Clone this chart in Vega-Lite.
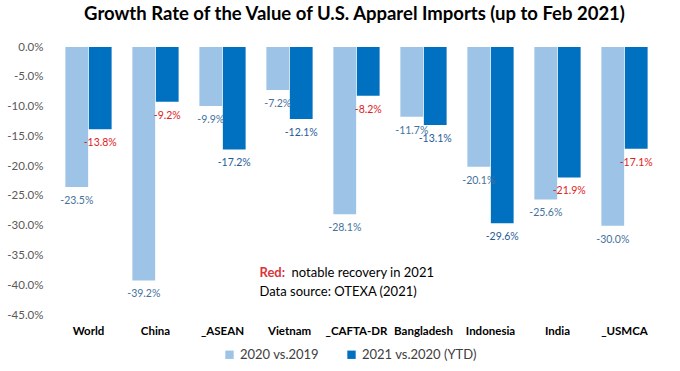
{
  "$schema": "https://vega.github.io/schema/vega-lite/v6.json",
  "width": 603,
  "height": 268,
  "autosize": {"type": "none"},
  "padding": {"left": 55, "top": 47, "right": 22, "bottom": 56},
  "background": "white",
  "config": {
    "font": "Lato",
    "view": {"stroke": null},
    "axis": {"labelOverlap": false, "labelSeparation": 0},
    "locale": {
      "number": {"decimal": ".", "thousands": ",", "grouping": [3], "currency": ["$", ""], "minus": "-"}
    }
  },
  "title": {
    "text": "Growth Rate of the Value of U.S. Apparel Imports (up to Feb 2021)",
    "font": "Lato",
    "fontSize": 18.5,
    "fontWeight": "bold",
    "color": "#000000",
    "anchor": "middle",
    "offset": 18,
    "dx": -2
  },
  "datasets": {
    "bars": [
      {"country": "World", "series": "2020 vs.2019", "value": -0.235, "recovery": false},
      {"country": "World", "series": "2021 vs.2020 (YTD)", "value": -0.138, "recovery": true},
      {"country": "China", "series": "2020 vs.2019", "value": -0.392, "recovery": false},
      {"country": "China", "series": "2021 vs.2020 (YTD)", "value": -0.092, "recovery": true},
      {"country": "_ASEAN", "series": "2020 vs.2019", "value": -0.099, "recovery": false},
      {"country": "_ASEAN", "series": "2021 vs.2020 (YTD)", "value": -0.172, "recovery": false},
      {"country": "Vietnam", "series": "2020 vs.2019", "value": -0.072, "recovery": false},
      {"country": "Vietnam", "series": "2021 vs.2020 (YTD)", "value": -0.121, "recovery": false},
      {"country": "_CAFTA-DR", "series": "2020 vs.2019", "value": -0.281, "recovery": false},
      {"country": "_CAFTA-DR", "series": "2021 vs.2020 (YTD)", "value": -0.082, "recovery": true},
      {"country": "Bangladesh", "series": "2020 vs.2019", "value": -0.117, "recovery": false},
      {"country": "Bangladesh", "series": "2021 vs.2020 (YTD)", "value": -0.131, "recovery": false},
      {"country": "Indonesia", "series": "2020 vs.2019", "value": -0.201, "recovery": false},
      {"country": "Indonesia", "series": "2021 vs.2020 (YTD)", "value": -0.296, "recovery": false},
      {"country": "India", "series": "2020 vs.2019", "value": -0.256, "recovery": false},
      {"country": "India", "series": "2021 vs.2020 (YTD)", "value": -0.219, "recovery": true},
      {"country": "_USMCA", "series": "2020 vs.2019", "value": -0.300, "recovery": false},
      {"country": "_USMCA", "series": "2021 vs.2020 (YTD)", "value": -0.171, "recovery": true}
    ],
    "notes": [
      {"country": "Vietnam", "value": -0.380, "part": "red", "text": "Red:"},
      {"country": "Vietnam", "value": -0.380, "part": "rest", "text": "notable recovery in 2021"},
      {"country": "Vietnam", "value": -0.412, "part": "source", "text": "Data source: OTEXA (2021)"}
    ]
  },
  "encoding": {
    "x": {
      "field": "country",
      "type": "nominal",
      "sort": ["World", "China", "_ASEAN", "Vietnam", "_CAFTA-DR", "Bangladesh", "Indonesia", "India", "_USMCA"],
      "scale": {"paddingInner": 0.31, "paddingOuter": 0.155},
      "axis": {
        "title": null,
        "orient": "bottom",
        "domain": false,
        "ticks": false,
        "labelAngle": 0,
        "labelFont": "Lato",
        "labelFontSize": 11.5,
        "labelFontWeight": "bold",
        "labelColor": "#000000",
        "labelPadding": 10
      }
    },
    "y": {
      "field": "value",
      "type": "quantitative",
      "scale": {"domain": [-0.45, 0], "nice": false},
      "axis": {
        "title": null,
        "values": [0, -0.05, -0.1, -0.15, -0.2, -0.25, -0.3, -0.35, -0.4, -0.45],
        "format": ".1%",
        "labelOverlap": false,
        "grid": false,
        "domain": false,
        "ticks": false,
        "labelFont": "Lato",
        "labelFontSize": 11.5,
        "labelColor": "#595959",
        "labelPadding": 12
      }
    }
  },
  "layer": [
    {
      "data": {"name": "bars"},
      "mark": {"type": "bar"},
      "encoding": {
        "xOffset": {"field": "series", "type": "nominal", "scale": {"paddingInner": 0.03}},
        "color": {
          "field": "series",
          "type": "nominal",
          "scale": {"domain": ["2020 vs.2019", "2021 vs.2020 (YTD)"], "range": ["#9DC3E6", "#0070C0"]},
          "legend": {
            "title": null,
            "orient": "none",
            "legendX": 168,
            "legendY": 301,
            "direction": "horizontal",
            "symbolType": "square",
            "symbolSize": 70,
            "symbolStrokeWidth": 0,
            "labelFont": "Lato",
            "labelFontSize": 13,
            "labelColor": "#404040",
            "columnPadding": 26
          }
        }
      }
    },
    {
      "data": {"name": "bars"},
      "mark": {"type": "text", "baseline": "top", "dy": 9, "font": "Lato", "fontSize": 10.5},
      "encoding": {
        "xOffset": {"field": "series", "type": "nominal"},
        "text": {"field": "value", "type": "quantitative", "format": ".1%"},
        "fontWeight": {
          "condition": {"test": "datum.series === '2021 vs.2020 (YTD)'", "value": "bold"},
          "value": "normal"
        },
        "color": {
          "condition": [
            {"test": "datum.series === '2021 vs.2020 (YTD)' && datum.recovery", "value": "#E0201B"},
            {"test": "datum.series === '2021 vs.2020 (YTD)'", "value": "#1F5C99"}
          ],
          "value": "#44729E"
        }
      }
    },
    {
      "data": {"name": "notes"},
      "transform": [{"filter": "datum.part === 'red'"}],
      "mark": {"type": "text", "align": "left", "baseline": "middle", "dx": -30, "font": "Lato", "fontSize": 13, "fontWeight": "bold", "color": "#D9363B"},
      "encoding": {"text": {"field": "text"}}
    },
    {
      "data": {"name": "notes"},
      "transform": [{"filter": "datum.part === 'rest'"}],
      "mark": {"type": "text", "align": "left", "baseline": "middle", "dx": 2, "font": "Lato", "fontSize": 13, "color": "#000000"},
      "encoding": {"text": {"field": "text"}}
    },
    {
      "data": {"name": "notes"},
      "transform": [{"filter": "datum.part === 'source'"}],
      "mark": {"type": "text", "align": "left", "baseline": "middle", "dx": -30, "font": "Lato", "fontSize": 13, "color": "#000000"},
      "encoding": {"text": {"field": "text"}}
    },
    {
      "data": {"values": [{"zero": 0}]},
      "mark": {"type": "rule", "color": "#D9D9D9", "strokeWidth": 1},
      "encoding": {"x": null, "y": {"datum": 0}}
    }
  ]
}
